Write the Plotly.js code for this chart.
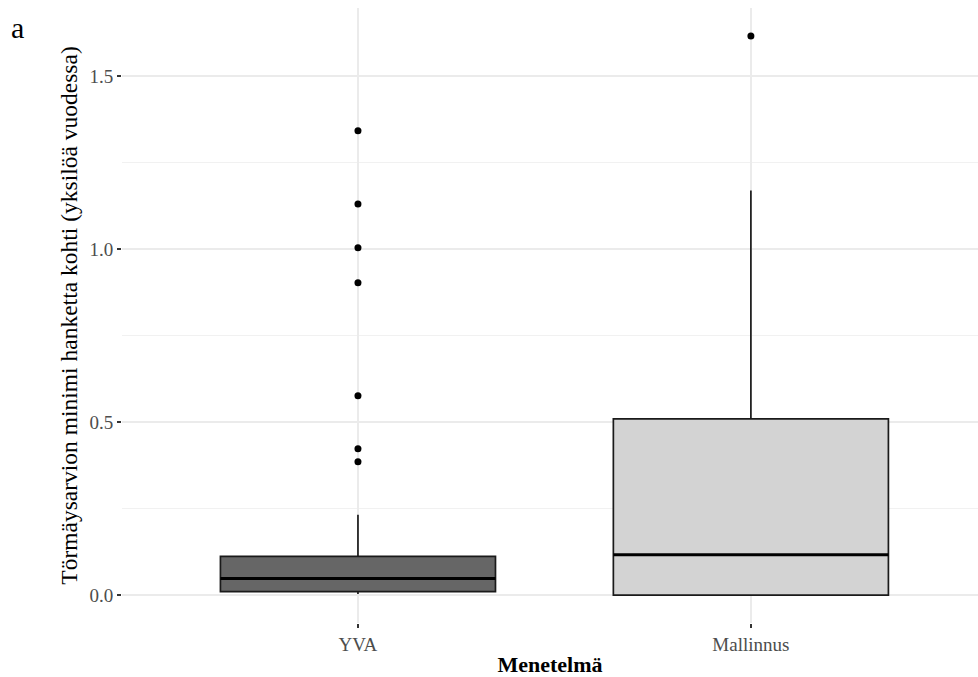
<!DOCTYPE html>
<html>
<head>
<meta charset="utf-8">
<script src="https://cdn.plot.ly/plotly-3.0.1.min.js"></script>
<style>html,body{margin:0;padding:0;background:#fff;}#chart{width:978px;height:677px;}</style>
</head>
<body>
<div id="chart"></div>
<script>
// Data
const categories = ["YVA", "Mallinnus"];
const lowerFence = [0.003, 0.0];
const q1 = [0.010, 0.0];
const median = [0.048, 0.1165];
const q3 = [0.112, 0.509];
const upperFence = [0.232, 1.169];
const outliersYVA = [1.342, 1.130, 1.004, 0.903, 0.576, 0.423, 0.385];
const outliersMallinnus = [1.616];
const fillColors = ["#666666", "#d3d3d3"];
const yTickVals = [0, 0.5, 1.0, 1.5];
const yTickText = ["0.0", "0.5", "1.0", "1.5"];

const boxWidth = 0.7;
const serif = "Liberation Serif, Times New Roman, serif";
const traces = [];
categories.forEach((c, i) => {
  traces.push({
    type: "box",
    x: [i],
    q1: [q1[i]], median: [median[i]], q3: [q3[i]],
    lowerfence: [lowerFence[i]], upperfence: [upperFence[i]],
    width: boxWidth,
    whiskerwidth: 0,
    boxpoints: false,
    fillcolor: fillColors[i],
    line: {color: "#1a1a1a", width: 1.7},
    hoverinfo: "skip",
    showlegend: false
  });
  // thicker median line (ggplot style)
  traces.push({
    type: "scatter", mode: "lines",
    x: [i - boxWidth / 2, i + boxWidth / 2],
    y: [median[i], median[i]],
    line: {color: "#000000", width: 3},
    hoverinfo: "skip", showlegend: false
  });
});
const outliers = [outliersYVA, outliersMallinnus];
outliers.forEach((arr, i) => {
  traces.push({
    type: "scatter", mode: "markers",
    x: arr.map(() => i), y: arr,
    marker: {color: "#000000", size: 7},
    hoverinfo: "skip", showlegend: false
  });
});

const layout = {
  width: 978, height: 677,
  margin: {l: 122, r: 0, t: 8, b: 54},
  paper_bgcolor: "#ffffff", plot_bgcolor: "#ffffff",
  font: {family: serif, color: "#4d4d4d", size: 18},
  xaxis: {
    range: [-0.6005, 1.578],
    tickmode: "array", tickvals: categories.map((c, i) => i), ticktext: categories,
    showgrid: true, gridcolor: "#ebebeb", gridwidth: 1.4,
    zeroline: false, showline: false,
    ticks: "outside", ticklen: 4, tickcolor: "#333333", tickwidth: 1.3,
    tickfont: {family: serif, size: 19, color: "#4d4d4d"},
    title: {text: "<b>Menetelmä</b>", font: {family: serif, size: 22, color: "#000000"}, standoff: 5}
  },
  yaxis: {
    range: [-0.0808, 1.6968],
    tickmode: "array", tickvals: yTickVals, ticktext: yTickText,
    showgrid: true, gridcolor: "#ebebeb", gridwidth: 1.4,
    minor: {tickvals: [0.25, 0.75, 1.25], showgrid: true, gridcolor: "#f0f0f0", gridwidth: 0.9, ticks: ""},
    zeroline: false, showline: false,
    ticks: "outside", ticklen: 4, tickcolor: "#333333", tickwidth: 1.3,
    tickfont: {family: serif, size: 19, color: "#4d4d4d"},
    title: {text: "Törmäysarvion minimi hanketta kohti (yksilöä vuodessa)", font: {family: serif, size: 23.5, color: "#000000"}, standoff: 5}
  },
  annotations: [{
    text: "a", xref: "paper", yref: "paper", x: -0.132, y: 0.968,
    xanchor: "left", yanchor: "middle", showarrow: false,
    font: {family: serif, size: 30, color: "#000000"}
  }]
};
Plotly.newPlot("chart", traces, layout, {displayModeBar: false, staticPlot: true});
</script>
</body>
</html>
